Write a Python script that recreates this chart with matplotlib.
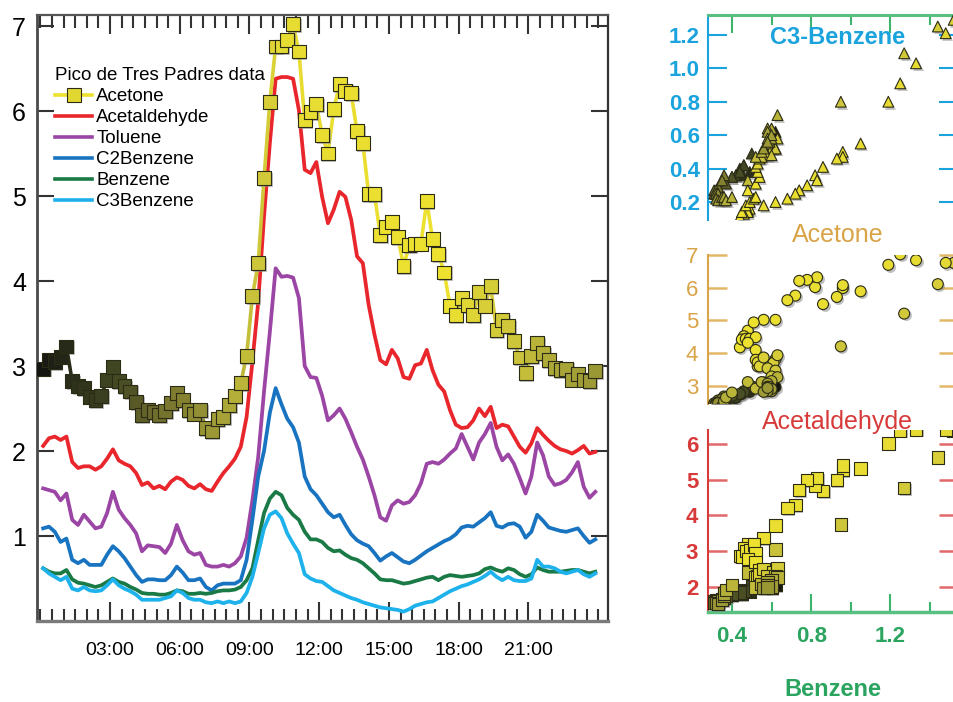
import numpy as np
import matplotlib

matplotlib.use("Agg")
import matplotlib.pyplot as plt
import matplotlib.transforms as mtransforms
from matplotlib.collections import LineCollection
from matplotlib.colors import LinearSegmentedColormap
from matplotlib.lines import Line2D
from matplotlib.ticker import FixedLocator, MultipleLocator

plt.rcParams["font.family"] = ["Liberation Sans", "DejaVu Sans"]

# 15 minute samples, hours of the day
hours = 0.125 + 0.25 * np.arange(96)

acetone = [
    2.97, 3.07, 3.05, 3.11, 3.23, 2.82, 2.76, 2.74, 2.64, 2.60, 2.65, 2.84,
    2.99, 2.82, 2.76, 2.70, 2.58, 2.42, 2.48, 2.46, 2.42, 2.47, 2.56, 2.68,
    2.60, 2.48, 2.44, 2.48, 2.27, 2.23, 2.38, 2.40, 2.54, 2.65, 2.80, 3.12,
    3.82, 4.21, 5.21, 6.11, 6.76, 6.76, 6.84, 7.02, 6.70, 5.89, 5.99, 6.08,
    5.72, 5.50, 6.02, 6.32, 6.24, 6.21, 5.76, 5.62, 5.02, 5.02, 4.54, 4.64,
    4.69, 4.52, 4.18, 4.42, 4.44, 4.44, 4.94, 4.49, 4.32, 4.10, 3.71, 3.60,
    3.80, 3.72, 3.60, 3.87, 3.71, 3.94, 3.42, 3.54, 3.47, 3.29, 3.10, 2.92,
    3.12, 3.27, 3.15, 3.07, 2.98, 2.95, 2.97, 2.84, 2.91, 2.84, 2.82, 2.94,
]
acetaldehyde = [
    2.06, 2.15, 2.17, 2.13, 2.17, 1.87, 1.80, 1.82, 1.82, 1.78, 1.82, 1.91,
    2.02, 1.89, 1.85, 1.82, 1.74, 1.60, 1.63, 1.56, 1.59, 1.55, 1.64, 1.69,
    1.66, 1.59, 1.56, 1.61, 1.55, 1.53, 1.64, 1.74, 1.82, 1.91, 2.05, 2.40,
    3.05, 3.75, 4.76, 5.62, 6.38, 6.40, 6.40, 6.38, 6.01, 5.31, 5.27, 5.40,
    4.99, 4.68, 4.84, 5.05, 4.99, 4.72, 4.29, 4.21, 3.72, 3.37, 3.07, 3.02,
    3.19, 3.09, 2.87, 2.85, 3.01, 3.03, 3.19, 2.95, 2.78, 2.70, 2.48, 2.31,
    2.27, 2.28, 2.36, 2.50, 2.41, 2.52, 2.27, 2.31, 2.29, 2.17, 2.05, 1.98,
    2.09, 2.27, 2.19, 2.12, 2.06, 2.02, 2.00, 1.97, 2.01, 2.06, 1.97, 1.99,
]
toluene = [
    1.56, 1.54, 1.52, 1.42, 1.50, 1.19, 1.13, 1.25, 1.17, 1.09, 1.11, 1.27,
    1.52, 1.31, 1.21, 1.13, 1.03, 0.82, 0.89, 0.88, 0.87, 0.80, 0.91, 1.13,
    0.95, 0.82, 0.78, 0.80, 0.66, 0.64, 0.64, 0.66, 0.64, 0.68, 0.76, 0.98,
    1.42, 1.93, 2.70, 3.40, 4.15, 4.05, 4.06, 4.04, 3.80, 3.00, 2.87, 2.86,
    2.65, 2.36, 2.42, 2.50, 2.38, 2.22, 2.05, 1.90, 1.70, 1.48, 1.22, 1.18,
    1.36, 1.42, 1.38, 1.40, 1.48, 1.62, 1.85, 1.87, 1.85, 1.90, 1.97, 2.03,
    2.20, 2.05, 1.90, 2.10, 2.20, 2.33, 2.05, 1.89, 1.96, 1.85, 1.68, 1.50,
    1.70, 2.10, 1.95, 1.70, 1.60, 1.62, 1.66, 1.75, 1.87, 1.58, 1.45, 1.52,
]
c2benzene = [
    1.09, 1.11, 1.05, 0.93, 0.97, 0.72, 0.68, 0.72, 0.66, 0.66, 0.66, 0.78,
    0.88, 0.82, 0.74, 0.64, 0.54, 0.46, 0.49, 0.49, 0.48, 0.48, 0.54, 0.64,
    0.57, 0.48, 0.48, 0.50, 0.40, 0.36, 0.42, 0.44, 0.44, 0.44, 0.48, 0.72,
    1.19, 1.70, 2.00, 2.45, 2.74, 2.55, 2.38, 2.28, 2.10, 1.70, 1.55, 1.48,
    1.38, 1.28, 1.22, 1.25, 1.13, 1.02, 0.95, 0.91, 0.88, 0.80, 0.71, 0.76,
    0.80, 0.75, 0.70, 0.68, 0.72, 0.77, 0.82, 0.86, 0.90, 0.94, 0.97, 1.02,
    1.10, 1.12, 1.11, 1.16, 1.21, 1.28, 1.12, 1.10, 1.14, 1.15, 1.11, 0.98,
    1.05, 1.25, 1.18, 1.10, 1.08, 1.06, 1.05, 1.07, 1.09, 1.00, 0.92, 0.96,
]
benzene = [
    0.62, 0.58, 0.56, 0.56, 0.60, 0.49, 0.45, 0.44, 0.42, 0.40, 0.42, 0.46,
    0.50, 0.46, 0.44, 0.40, 0.37, 0.33, 0.32, 0.32, 0.31, 0.31, 0.33, 0.36,
    0.35, 0.32, 0.32, 0.33, 0.32, 0.33, 0.35, 0.36, 0.36, 0.37, 0.40, 0.48,
    0.62, 0.95, 1.27, 1.44, 1.52, 1.48, 1.33, 1.25, 1.19, 1.05, 0.96, 0.96,
    0.93, 0.86, 0.82, 0.83, 0.78, 0.74, 0.72, 0.68, 0.62, 0.56, 0.49, 0.48,
    0.48, 0.46, 0.44, 0.45, 0.47, 0.49, 0.51, 0.52, 0.48, 0.52, 0.54, 0.53,
    0.52, 0.53, 0.54, 0.56, 0.61, 0.63, 0.60, 0.58, 0.62, 0.60, 0.55, 0.52,
    0.55, 0.63, 0.60, 0.58, 0.58, 0.58, 0.59, 0.60, 0.60, 0.58, 0.56, 0.58,
]
c3benzene = [
    0.62, 0.56, 0.52, 0.48, 0.52, 0.38, 0.36, 0.40, 0.36, 0.35, 0.36, 0.42,
    0.49, 0.42, 0.38, 0.35, 0.31, 0.25, 0.25, 0.25, 0.25, 0.27, 0.29, 0.36,
    0.33, 0.27, 0.25, 0.25, 0.22, 0.21, 0.23, 0.21, 0.23, 0.21, 0.23, 0.33,
    0.52, 0.80, 1.09, 1.25, 1.29, 1.21, 1.03, 0.91, 0.80, 0.55, 0.50, 0.47,
    0.46, 0.41, 0.36, 0.33, 0.30, 0.27, 0.25, 0.22, 0.20, 0.18, 0.16, 0.15,
    0.14, 0.13, 0.11, 0.14, 0.18, 0.20, 0.22, 0.23, 0.27, 0.31, 0.35, 0.38,
    0.41, 0.43, 0.46, 0.49, 0.53, 0.58, 0.52, 0.48, 0.52, 0.48, 0.47, 0.47,
    0.50, 0.72, 0.64, 0.64, 0.62, 0.58, 0.56, 0.58, 0.60, 0.55, 0.52, 0.56,
]

time_ticks = [3, 6, 9, 12, 15, 18, 21]
time_labels = ["03:00", "06:00", "09:00", "12:00", "15:00", "18:00", "21:00"]
series_names = ["Acetone", "Acetaldehyde", "Toluene", "C2Benzene", "Benzene", "C3Benzene"]
series_colors = ["#ece030", "#e8262c", "#9b45a5", "#1874c0", "#1a7a45", "#1db2ec"]

# marker shading by time of day: near black at night, bright yellow in daylight
shade_hours = [0, 1, 3.5, 5, 6.5, 8, 9, 9.6, 10.5, 17.5, 19, 20.5, 22, 24]
shade_level = [0.0, 0.1, 0.25, 0.4, 0.5, 0.6, 0.75, 0.8, 0.95, 1.0, 0.85, 0.78, 0.62, 0.55]
daylight = LinearSegmentedColormap.from_list(
    "daylight", ["#121210", "#3a4020", "#6e6c2c", "#a8a438", "#d0c83a", "#eee230"]
)
point_colors = daylight(np.interp(hours, shade_hours, shade_level))

W, H = 954, 702
fig = plt.figure(figsize=(W / 100, H / 100), dpi=100)
fig.patch.set_facecolor("white")


def px_axes(left, top, right, bottom):
    return fig.add_axes([left / W, (H - bottom) / H, (right - left) / W, (bottom - top) / H])


def shadowed_scatter(ax, x, y, marker, size, z=6):
    shadow = mtransforms.offset_copy(ax.transData, fig=fig, x=1.5, y=-1.8, units="dots")
    ax.scatter(x, y, s=size, marker=marker, color="#8c8c8c", alpha=0.55, linewidths=0,
               transform=shadow, zorder=z - 0.5, clip_on=True)
    ax.scatter(x, y, s=size, marker=marker, c=point_colors, edgecolors="#2c2c16",
               linewidths=0.8, zorder=z)


# ---- time series panel ----
ax = px_axes(37, 15, 608, 621)
for name, color, values in zip(series_names[1:], series_colors[1:],
                               [acetaldehyde, toluene, c2benzene, benzene, c3benzene]):
    ax.plot(hours, values, color=color, lw=2.7, zorder=3, solid_joinstyle="round")

pts = np.column_stack([hours, acetone])
segments = np.stack([pts[:-1], pts[1:]], axis=1)
seg_colors = (point_colors[:-1] + point_colors[1:]) / 2
ax.add_collection(LineCollection(segments, colors=seg_colors, linewidths=2.6, zorder=5))
shadowed_scatter(ax, hours, acetone, "s", 100, z=6)

ax.set_xlim(-0.14, 24.42)
ax.set_ylim(0, 7.13)
ax.set_xticks(time_ticks)
ax.set_xticklabels(time_labels)
ax.xaxis.set_minor_locator(MultipleLocator(0.5))
ax.set_yticks([1, 2, 3, 4, 5, 6, 7])
ax.tick_params(axis="x", which="major", direction="in", length=14, width=1.5,
               top=True, labelsize=14, pad=15, color="#333333")
ax.tick_params(axis="x", which="minor", direction="in", length=9, width=1.5,
               top=True, color="#333333")
ax.tick_params(axis="y", direction="in", length=12, width=1.5, right=True,
               labelsize=18, pad=8, color="#333333")
for side, col, lw in [("left", "#4a4a4a", 2.0), ("bottom", "#7a7a7a", 2.4),
                      ("top", "#555555", 1.6), ("right", "#333333", 1.6)]:
    ax.spines[side].set_color(col)
    ax.spines[side].set_linewidth(lw)

handles = [Line2D([], [], color=series_colors[0], lw=2.6, marker="s", ms=10,
                  mfc="#e0d830", mec="#2c2c16", mew=0.8)]
handles += [Line2D([], [], color=c, lw=2.6) for c in series_colors[1:]]
ax.legend(handles, series_names, title="Pico de Tres Padres data", loc="upper left",
          bbox_to_anchor=(0.0315, 0.914), frameon=False, fontsize=13.5,
          title_fontsize=13.5, handlelength=2.0, handletextpad=0.2, labelspacing=0.21,
          borderpad=0, borderaxespad=0, alignment="left")

# ---- scatter panels against benzene ----
benz_lim = (0.279, 1.542)
blue, orange, red, green = "#1aa3dc", "#d9a347", "#d83a3a", "#2aa45e"

ax_c3 = px_axes(708, 15, 958, 220)
shadowed_scatter(ax_c3, benzene, c3benzene, "^", 60)
ax_c3.set_xlim(*benz_lim)
ax_c3.set_ylim(0.0925, 1.319)
ax_c3.set_yticks([0.2, 0.4, 0.6, 0.8, 1.0, 1.2])
ax_c3.set_yticklabels(["0.2", "0.4", "0.6", "0.8", "1.0", "1.2"])
ax_c3.tick_params(axis="y", direction="in", length=14, width=1.5, color=blue,
                  labelcolor=blue, labelsize=16, pad=6)
ax_c3.tick_params(axis="y", which="major", right=True)
ax_c3.xaxis.set_major_locator(FixedLocator([0.4, 0.8, 1.2]))
ax_c3.xaxis.set_minor_locator(FixedLocator([0.6, 1.0, 1.4]))
ax_c3.tick_params(axis="x", which="both", top=True, bottom=False, labelbottom=False,
                  direction="in", width=1.5, color="#3cb46c")
ax_c3.tick_params(axis="x", which="major", length=13)
ax_c3.tick_params(axis="x", which="minor", length=7)
ax_c3.spines["left"].set_color(blue)
ax_c3.spines["left"].set_linewidth(1.5)
ax_c3.spines["top"].set_color("#58c080")
ax_c3.spines["top"].set_linewidth(2.2)
ax_c3.spines["bottom"].set_visible(False)
ax_c3.spines["right"].set_visible(False)
for lab in ax_c3.get_yticklabels():
    lab.set_fontweight("bold")

ax_ac = px_axes(708, 255, 958, 404)
shadowed_scatter(ax_ac, benzene, acetone, "o", 62)
ax_ac.set_xlim(*benz_lim)
ax_ac.set_ylim(2.45, 7.0)
ax_ac.set_yticks([3, 4, 5, 6, 7])
ax_ac.set_xticks([])
ax_ac.tick_params(axis="y", direction="in", length=14, width=1.8, color="#e2b868",
                  labelcolor=orange, labelsize=16, pad=7, right=True)
ax_ac.spines["left"].set_color(orange)
ax_ac.spines["left"].set_linewidth(1.5)
for side in ["top", "bottom", "right"]:
    ax_ac.spines[side].set_visible(False)

ax_ald = px_axes(708, 430, 958, 612)
shadowed_scatter(ax_ald, benzene, acetaldehyde, "s", 80)
ax_ald.set_xlim(*benz_lim)
ax_ald.set_ylim(1.30, 6.39)
ax_ald.set_yticks([2, 3, 4, 5, 6])
ax_ald.tick_params(axis="y", direction="in", length=14, width=1.8, color="#e06868",
                   labelcolor=red, labelsize=16, pad=7, right=True)
ax_ald.xaxis.set_major_locator(FixedLocator([0.4, 0.8, 1.2]))
ax_ald.xaxis.set_minor_locator(FixedLocator([0.6, 1.0, 1.4]))
ax_ald.tick_params(axis="x", which="both", direction="in", width=1.5, color="#3cb46c",
                   labelcolor=green, labelsize=16, pad=10)
ax_ald.tick_params(axis="x", which="major", length=13)
ax_ald.tick_params(axis="x", which="minor", length=7)
ax_ald.spines["left"].set_color(red)
ax_ald.spines["left"].set_linewidth(1.5)
ax_ald.spines["bottom"].set_color("#58c080")
ax_ald.spines["bottom"].set_linewidth(2.5)
ax_ald.spines["top"].set_visible(False)
ax_ald.spines["right"].set_visible(False)
for lab in ax_ald.get_yticklabels() + ax_ald.get_xticklabels():
    lab.set_fontweight("bold")

fig.text(838 / W, 1 - 38 / H, "C3-Benzene", color=blue, fontsize=17, fontweight="bold",
         ha="center", va="center")
fig.text(838 / W, 1 - 235 / H, "Acetone", color=orange, fontsize=18, ha="center", va="center")
fig.text(837 / W, 1 - 422 / H, "Acetaldehyde", color=red, fontsize=18, ha="center",
         va="center")
fig.text(833 / W, 1 - 689 / H, "Benzene", color=green, fontsize=17, fontweight="bold",
         ha="center", va="center")

fig.savefig("out.png", dpi=100, facecolor="white")
